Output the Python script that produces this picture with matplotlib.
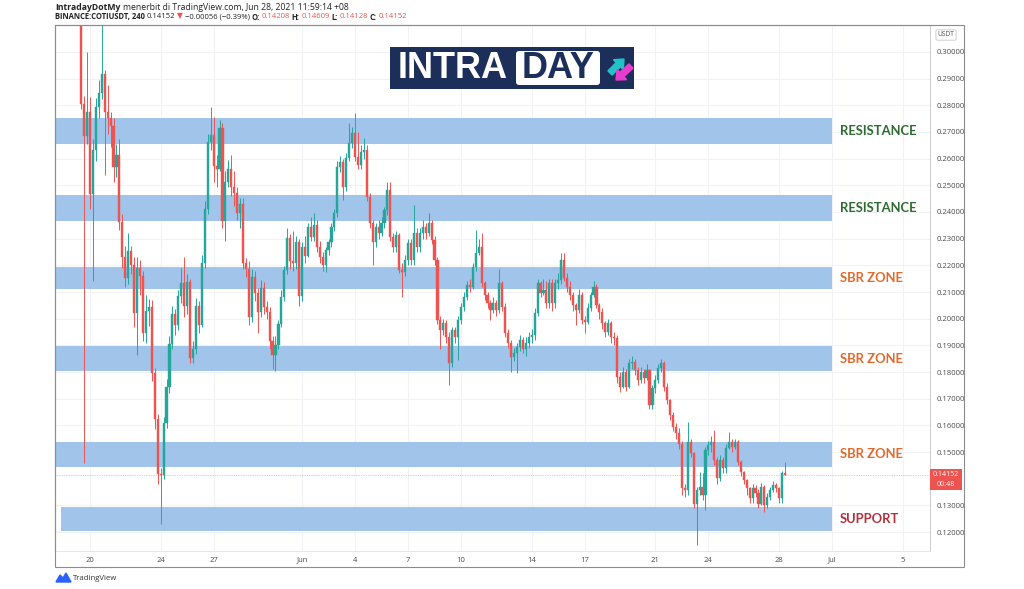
import matplotlib
matplotlib.use('Agg')
import matplotlib.pyplot as plt
import matplotlib.dates as mdates
from matplotlib.patches import Rectangle, FancyBboxPatch, FancyArrow, Polygon
import numpy as np
import pandas as pd

# COTIUSDT 4h candles (May 19 12:00 -> Jun 28 08:00)
first_open = 0.316
closes = [
    .2806, .2684, .2775, .2466, .2633, .2795, .2846, .2917, .2775, .2752,
    .2724, .2568, .2613, .2361, .2230, .2153, .2255, .2200, .2021, .2190,
    .2160, .1945, .2029, .2044, .1797, .1625, .1416, .1413, .1609, .1743,
    .1904, .2018, .1977, .2084, .2134, .2048, .2139, .1854, .1886, .2048,
    .1977, .2210, .2412, .2664, .2689, .2573, .2563, .2715, .2368, .2512,
    .2563, .2492, .2472, .2398, .2431, .2207, .2187, .2006, .2157, .2096,
    .2024, .2116, .2044, .2024, .1915, .1864, .1903, .1980, .2082, .2181,
    .2303, .2218, .2208, .2289, .2085, .2269, .2235,
    .2345, .2307, .2351, .2270, .2232, .2201, .2257, .2288, .2345, .2395,
    .2570, .2588, .2495, .2601, .2657, .2695, .2607, .2576, .2626, .2632,
    .2457, .2357, .2288, .2345, .2320, .2357, .2407, .2482, .2307, .2270,
    .2313, .2182, .2176, .2220, .2282, .2220, .2320, .2270, .2320, .2345,
    .2320, .2357, .2295, .2220, .1995, .1957, .1982, .1932, .1832, .1957,
    .1932, .1995, .2045, .2082, .2126, .2120, .2195, .2245, .2270, .2132,
    .2088, .2057, .2032, .2057, .2032, .2132, .2045, .1945, .1907, .1857,
    .1870, .1895, .1920, .1888, .1907, .1932, .1938, .2020, .2132, .2095,
    .2107, .2057,
    .2132, .2057, .2132, .2145, .2220, .2151, .2120, .2089, .2051, .2032,
    .2089, .1995, .1989, .2039, .2089, .2120, .2051, .2026, .1982, .1951,
    .1982, .1932, .1926, .1782, .1745, .1801, .1745, .1832, .1838, .1807,
    .1770, .1801, .1776, .1807, .1676, .1739, .1770, .1814, .1832, .1745,
    .1695, .1639, .1595, .1570, .1532, .1364, .1357, .1539, .1495, .1307,
    .1357, .1370, .1339, .1507, .1526, .1539, .1470, .1401, .1470, .1439,
    .1514, .1539, .1520, .1539, .1464, .1426, .1395, .1364, .1326, .1364,
    .1345, .1307, .1370, .1301, .1332, .1357, .1376, .1364, .1326, .14208,
    .14152,
]
highs = [
    .3200, .2835, .2998, .2831, .2675, .2826, .2895, .3100, .2932, .2876,
    .2776, .2754, .2653, .2674, .2391, .2272, .2322, .2272, .2230, .2230,
    .2220, .2180, .2089, .2074, .2069, .1814, .1642, .1440, .1631, .1772,
    .1935, .2047, .2038, .2108, .2189, .2230, .2169, .2149, .1916, .2078,
    .2068, .2240, .2443, .2694, .2795, .2756, .2615, .2746, .2735, .2553,
    .2594, .2614, .2553, .2492, .2451, .2451, .2228, .2218, .2187, .2177,
    .2116, .2146, .2136, .2068, .2044, .1934, .1934, .1995, .2106, .2197,
    .2339, .2318, .2329, .2309, .2299, .2289, .2310,
    .2360, .2382, .2395, .2370, .2290, .2250, .2270, .2300, .2360, .2410,
    .2590, .2610, .2600, .2620, .2732, .2720, .2770, .2701, .2650, .2676,
    .2650, .2470, .2370, .2360, .2370, .2380, .2420, .2513, .2513, .2320,
    .2330, .2320, .2210, .2240, .2300, .2300, .2426, .2340, .2340, .2370,
    .2360, .2395, .2370, .2310, .2230, .2010, .2000, .1995, .1950, .1970,
    .1970, .2010, .2060, .2100, .2140, .2150, .2210, .2332, .2300, .2320,
    .2140, .2100, .2070, .2080, .2070, .2188, .2140, .2060, .1960, .1920,
    .1890, .1910, .1940, .1930, .1930, .1950, .1960, .2040, .2150, .2140,
    .2150, .2140,
    .2150, .2150, .2150, .2170, .2245, .2245, .2170, .2140, .2100, .2060,
    .2110, .2100, .2010, .2060, .2100, .2140, .2130, .2060, .2040, .1990,
    .2000, .1990, .1950, .1940, .1800, .1820, .1810, .1850, .1860, .1850,
    .1820, .1820, .1810, .1830, .1810, .1750, .1790, .1830, .1850, .1840,
    .1760, .1700, .1650, .1610, .1590, .1540, .1380, .1614, .1550, .1500,
    .1370, .1426, .1420, .1520, .1540, .1560, .1582, .1480, .1490, .1480,
    .1530, .1576, .1550, .1550, .1545, .1470, .1430, .1400, .1370, .1380,
    .1375, .1360, .1385, .1375, .1345, .1370, .1390, .1385, .1370, .1430,
    .14609,
]
lows = [
    .2785, .1458, .2653, .2411, .2143, .2593, .2753, .2824, .2538, .2694,
    .2642, .2511, .2532, .2331, .2190, .2118, .2129, .2169, .1967, .1863,
    .2089, .1918, .1907, .1973, .1766, .1587, .1380, .1230, .1399, .1590,
    .1723, .1886, .1937, .1957, .2058, .2007, .2018, .1833, .1833, .1866,
    .1947, .1967, .2190, .2392, .2633, .2512, .2492, .2553, .2341, .2290,
    .2492, .2461, .2421, .2370, .2340, .2187, .2157, .1977, .1987, .2068,
    .1947, .2007, .2018, .1997, .1885, .1812, .1802, .1885, .1967, .2068,
    .2167, .2188, .2178, .2188, .2047, .2068, .2210,
    .2230, .2290, .2290, .2250, .2210, .2180, .2176, .2240, .2270, .2330,
    .2380, .2550, .2445, .2480, .2590, .2640, .2590, .2560, .2560, .2600,
    .2440, .2340, .2201, .2270, .2300, .2310, .2340, .2390, .2290, .2250,
    .2250, .2170, .2082, .2160, .2200, .2200, .2200, .2250, .2250, .2300,
    .2300, .2310, .2280, .2200, .1980, .1888, .1940, .1910, .1751, .1820,
    .1910, .1845, .1980, .2030, .2070, .2100, .2110, .2180, .2240, .2120,
    .2070, .2040, .1995, .2020, .2010, .2020, .2030, .1930, .1890, .1800,
    .1840, .1795, .1880, .1870, .1860, .1890, .1910, .1920, .2010, .2080,
    .2090, .2040,
    .2040, .2030, .2040, .2110, .2130, .2140, .2100, .2070, .2030, .1976,
    .2020, .1980, .1945, .1980, .2030, .2080, .2040, .2000, .1960, .1930,
    .1940, .1910, .1900, .1760, .1726, .1740, .1730, .1740, .1810, .1790,
    .1750, .1760, .1760, .1770, .1660, .1660, .1720, .1760, .1800, .1730,
    .1680, .1620, .1580, .1550, .1510, .1340, .1330, .1340, .1480, .1290,
    .1151, .1340, .1320, .1282, .1490, .1500, .1450, .1380, .1390, .1420,
    .1420, .1510, .1500, .1510, .1450, .1410, .1380, .1340, .1310, .1310,
    .1330, .1290, .1300, .1276, .1290, .1320, .1350, .1350, .1310, .1310,
    .14128,
]
last_bar = '2021-06-28 08:00'
last_price = 0.14152

# drawn zones
zone_lo = [0.2655, 0.2365, 0.2111, 0.1804, 0.1444, 0.1204]
zone_hi = [0.2752, 0.2462, 0.2194, 0.1896, 0.1538, 0.1294]
zone_start = ['2021-05-17', '2021-05-17', '2021-05-17', '2021-05-17', '2021-05-17', '2021-05-18 08:30']
zone_end = '2021-07-01 00:00'
zone_labels = ['RESISTANCE', 'RESISTANCE', 'SBR ZONE', 'SBR ZONE', 'SBR ZONE', 'SUPPORT']
zone_colors = ['#2e6b30', '#2e6b30', '#e2692b', '#e2692b', '#e2692b', '#b3303c']

date_ticks = ['2021-05-20', '2021-05-24', '2021-05-27', '2021-06-01', '2021-06-04', '2021-06-07',
              '2021-06-10', '2021-06-14', '2021-06-17', '2021-06-21', '2021-06-24', '2021-06-28',
              '2021-07-01', '2021-07-05']
date_labels = ['20', '24', '27', 'Jun', '4', '7', '10', '14', '17', '21', '24', '28', 'Jul', '5']
price_ticks = [0.12, 0.13, 0.15, 0.16, 0.17, 0.18, 0.19, 0.20, 0.21, 0.22, 0.23, 0.24,
               0.25, 0.26, 0.27, 0.28, 0.29, 0.30]

# header pieces: (text, bold, colour)
header1 = [('IntradayDotMy', True, '#222222'),
           ('menerbit di TradingView.com, Jun 28, 2021 11:59:14 +08', False, '#222222')]
header2 = [('BINANCE:COTIUSDT, 240', True, '#222222'), ('0.14152', False, '#222222'),
           ('\u25bc', False, '#ef5350'), ('\u22120.00056 (\u22120.39%)', False, '#222222'),
           ('O:', True, '#222222'), ('0.14208', False, '#ef5350'),
           ('H:', True, '#222222'), ('0.14609', False, '#ef5350'),
           ('L:', True, '#222222'), ('0.14128', False, '#ef5350'),
           ('C:', True, '#222222'), ('0.14152', False, '#ef5350')]

UP, DOWN = '#26a69a', '#ef5350'
W, H = 1024, 589
fig = plt.figure(figsize=(W / 100, H / 100), dpi=100)
fig.patch.set_facecolor('white')


def frac(x, y):
    return x / W, 1 - y / H


x0, y0 = frac(55, 551)
x1, y1 = frac(930, 25)
ax = fig.add_axes([x0, y0, x1 - x0, y1 - y0])

times = pd.date_range(end=last_bar, periods=len(closes), freq='4h')
xs = mdates.date2num(times.to_pydatetime())
c = np.array(closes)
o = np.array([first_open] + closes[:-1])
hi = np.maximum(np.array(highs), np.maximum(o, c))
lo = np.minimum(np.array(lows), np.minimum(o, c))
cols = np.where(c >= o, UP, DOWN)

for zl, zh, zs in zip(zone_lo, zone_hi, zone_start):
    xa = mdates.date2num(pd.Timestamp(zs))
    xb = mdates.date2num(pd.Timestamp(zone_end))
    ax.add_patch(Rectangle((xa, zl), xb - xa, zh - zl, facecolor='#a0c4ea',
                           edgecolor='none', zorder=1))

ax.vlines(xs, lo, hi, colors=cols, linewidth=0.7, zorder=2)
ax.bar(xs, np.abs(c - o), bottom=np.minimum(o, c), width=0.12, color=cols,
       edgecolor=cols, linewidth=0.3, zorder=3)

ax.axhline(last_price, color=DOWN, lw=0.5, ls=(0, (1, 1.5)), alpha=0.7, zorder=2)

lab_x = mdates.date2num(pd.Timestamp('2021-07-01 11:00'))
for zl, zh, txt, col in zip(zone_lo, zone_hi, zone_labels, zone_colors):
    ax.text(lab_x, (zl + zh) / 2, txt, color=col, fontsize=9.4, fontweight='bold',
            family='Lato', ha='left', va='center', zorder=4)

ax.set_xlim(mdates.date2num(pd.Timestamp('2021-05-18 00:30')),
            mdates.date2num(pd.Timestamp('2021-07-06 13:00')))
ax.set_ylim(0.1129, 0.3101)

ax.set_xticks(mdates.date2num(pd.to_datetime(date_ticks)))
ax.set_xticklabels(date_labels)
ax.yaxis.tick_right()
ax.set_yticks(price_ticks)
ax.set_yticklabels(['%.5f' % p for p in price_ticks])
ax.tick_params(axis='both', length=0, labelsize=5.5, labelcolor='#4a4a4a')
ax.tick_params(axis='y', pad=5)
ax.tick_params(axis='x', pad=4)
for lbl in ax.get_xticklabels() + ax.get_yticklabels():
    lbl.set_family('Open Sans')
ax.grid(True, color='#f0f2f6', lw=0.8, zorder=0)
ax.set_axisbelow(True)
for side in ['top', 'left']:
    ax.spines[side].set_color('#8c8c8c')
    ax.spines[side].set_linewidth(0.8)
ax.spines['right'].set_color('#c4c4c4')
ax.spines['right'].set_linewidth(0.6)
ax.spines['bottom'].set_color('#e2e2e2')
ax.spines['bottom'].set_linewidth(0.6)

# overlay in pixel coordinates for the frame, header, logo and price tag
deco = fig.add_axes([0, 0, 1, 1], zorder=5)
deco.set_xlim(0, W)
deco.set_ylim(H, 0)
deco.axis('off')

deco.add_patch(Rectangle((55, 25), 964 - 55, 567 - 25, fill=False, edgecolor='#8c8c8c', lw=0.8))

deco.add_patch(Rectangle((930, 469), 32, 21, facecolor=DOWN, edgecolor='none'))
deco.text(946, 474.5, '0.14152', color='white', fontsize=5, ha='center', va='center', family='Open Sans')
deco.text(946, 484, '00:48', color='white', fontsize=5, ha='center', va='center', family='Open Sans')

deco.text(946, 35, 'USDT', fontsize=4.8, color='#555555', ha='center', va='center', family='Open Sans',
          bbox=dict(boxstyle='round,pad=0.25', facecolor='white', edgecolor='#c8c8c8', lw=0.6))

renderer = fig.canvas.get_renderer()


def header_line(pieces, y, size, gap):
    x = 55
    for txt, bold, col in pieces:
        t = deco.text(x, y, txt, fontsize=size, family=['Open Sans', 'DejaVu Sans'], va='center',
                      color=col, fontweight='bold' if bold else 'normal')
        bb = t.get_window_extent(renderer)
        x += bb.width + gap


header_line(header1, 7, 6.2, 2.5)
header_line(header2, 17, 5.5, 1.8)

# INTRADAY logo
deco.add_patch(Rectangle((390, 47), 244, 42, facecolor='#1c2f5b', edgecolor='none'))
deco.add_patch(FancyBboxPatch((516, 51), 84, 34, boxstyle='round,pad=0,rounding_size=3',
                              facecolor='white', edgecolor='none'))
deco.text(398, 69, 'INTRA', color='white', fontsize=26, fontweight='bold',
          family='Liberation Sans', ha='left', va='center')
deco.text(558, 69, 'DAY', color='#1c2f5b', fontsize=26, fontweight='bold',
          family='Liberation Sans', ha='center', va='center')
deco.add_patch(FancyArrow(610, 73, 14, -14, width=6, head_width=14, head_length=8,
                          length_includes_head=True, color='#22c3c8'))
deco.add_patch(FancyArrow(631, 66, -15, 14, width=6, head_width=14, head_length=8,
                          length_includes_head=True, color='#e83ccf'))

# TradingView footer
deco.add_patch(Polygon([(56, 582), (60, 575), (63, 578), (66, 573), (71, 582)], color='#2962ff'))
deco.text(73, 578, 'TradingView', fontsize=5.6, family='Open Sans', color='#333333', va='center')

plt.savefig('out.png', dpi=100)
plt.close()
